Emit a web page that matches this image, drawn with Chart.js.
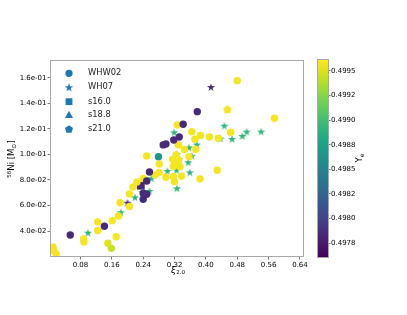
<!DOCTYPE html>
<html lang="en">
<head>
  <meta charset="UTF-8">
  <title>56Ni vs compactness</title>
  <script src="https://cdn.jsdelivr.net/npm/chart.js"></script>
  <style>
    html, body { margin: 0; padding: 0; background: #fff; }
    .wrap { position: relative; width: 407px; height: 315px; overflow: hidden; }
    #mainChart { position: absolute; left: 0; top: 0; }
    #cbar { position: absolute; left: 300px; top: 0; }
  </style>
</head>
<body>
  <div class="wrap">
    <canvas id="mainChart" width="310" height="315"></canvas>
    <canvas id="cbar" width="107" height="315"></canvas>
  </div>
  <script>
    // WHW02 models (circles)
    const whwXi = [0.010, 0.013, 0.018, 0.088, 0.089, 0.124, 0.124, 0.161, 0.150, 0.159, 0.171, 0.177, 0.181, 0.205, 0.205,
      0.214, 0.224, 0.240, 0.249, 0.270, 0.281, 0.281, 0.298, 0.317, 0.317, 0.320, 0.334, 0.338, 0.321, 0.315, 0.324, 0.330,
      0.345, 0.374, 0.357, 0.330, 0.327, 0.364, 0.386, 0.372, 0.409, 0.432, 0.463, 0.575, 0.480, 0.429, 0.385,
      0.054, 0.141, 0.249, 0.256, 0.240, 0.249, 0.240, 0.378, 0.342, 0.332, 0.318, 0.291, 0.298,
      0.279];
    const whwNi = [0.0275, 0.0243, 0.0220, 0.0337, 0.0314, 0.0471, 0.0404, 0.0481, 0.0304, 0.0264, 0.0355, 0.0518, 0.0622, 0.0592, 0.0690,
      0.0745, 0.0784, 0.0813, 0.0988, 0.0839, 0.0860, 0.0925, 0.0821, 0.0906, 0.0827, 0.0787, 0.0904, 0.0831, 0.0931, 0.0962, 0.0996, 0.0957,
      0.1039, 0.1041, 0.0983, 0.1075, 0.1231, 0.1179, 0.1149, 0.1120, 0.1137, 0.1127, 0.1174, 0.1284, 0.1579, 0.0876, 0.0809,
      0.0369, 0.0437, 0.0792, 0.0863, 0.0696, 0.0688, 0.0649, 0.1336, 0.1237, 0.1137, 0.1114, 0.1075, 0.1082,
      0.0983];
    const whwYe = [0.49958, 0.49958, 0.49958, 0.49958, 0.49958, 0.49958, 0.49958, 0.49958, 0.49952, 0.49945, 0.49958, 0.49958, 0.49958, 0.49958, 0.49958,
      0.49958, 0.49958, 0.49958, 0.49958, 0.49958, 0.49958, 0.49958, 0.49958, 0.49958, 0.49958, 0.49958, 0.49958, 0.49958, 0.49958, 0.49958, 0.49958, 0.49958,
      0.49958, 0.49958, 0.49958, 0.49958, 0.49958, 0.49958, 0.49958, 0.49958, 0.49958, 0.49958, 0.49958, 0.49958, 0.49958, 0.49958, 0.49958,
      0.49785, 0.49785, 0.49785, 0.49785, 0.49785, 0.49785, 0.49785, 0.49785, 0.49785, 0.49785, 0.49785, 0.49785, 0.49785,
      0.49865];

    // WH07 models (stars)
    const whXi = [0.099, 0.183, 0.219, 0.238, 0.256, 0.261, 0.302, 0.325, 0.326, 0.355, 0.359, 0.319, 0.326, 0.332, 0.357, 0.377,
      0.364, 0.447, 0.437, 0.467, 0.493, 0.504, 0.541, 0.200, 0.413];
    const whNi = [0.0387, 0.0547, 0.0664, 0.0704, 0.0714, 0.0813, 0.0871, 0.0878, 0.0735, 0.0939, 0.0860, 0.1174, 0.1002, 0.0963, 0.1055, 0.1078,
      0.0990, 0.1226, 0.1125, 0.1122, 0.1145, 0.1179, 0.1180, 0.0622, 0.1529];
    const whYe = [0.49891, 0.49891, 0.49891, 0.49891, 0.49891, 0.49891, 0.49891, 0.49891, 0.49891, 0.49891, 0.49891, 0.49891, 0.49891, 0.49891, 0.49891, 0.49891,
      0.49891, 0.49891, 0.49891, 0.49891, 0.49891, 0.49891, 0.49891, 0.49785, 0.49785];

    // single progenitors
    const s16Xi = [0.234], s16Ni = [0.0755], s16Ye = [0.49785];
    const s188Xi = [], s188Ni = [], s188Ye = [];
    const s21Xi = [0.455], s21Ni = [0.1355], s21Ye = [0.49958];

    const legendNames = ['WHW02', 'WH07', 's16.0', 's18.8', 's21.0'];
    const xTicks = [0.08, 0.16, 0.24, 0.32, 0.40, 0.48, 0.56, 0.64];
    const xTickLabels = ['0.08', '0.16', '0.24', '0.32', '0.40', '0.48', '0.56', '0.64'];
    const yTicks = [0.04, 0.06, 0.08, 0.10, 0.12, 0.14, 0.16];
    const yTickLabels = ['4.0e-02', '6.0e-02', '8.0e-02', '1.0e-01', '1.2e-01', '1.4e-01', '1.6e-01'];
    const cbTicks = [0.49775, 0.498, 0.49825, 0.4985, 0.49875, 0.499, 0.49925, 0.4995];
    const cbTickLabels = ['0.4978', '0.4980', '0.4982', '0.4985', '0.4988', '0.4990', '0.4992', '0.4995'];
    const yeMin = 0.49761, yeMax = 0.49961;

    // viridis colormap
    const VIRIDIS = ['#440154', '#471365', '#482475', '#463480', '#414487', '#3b528b', '#355f8d', '#2f6c8e', '#2a788e', '#25848e',
      '#21918c', '#1e9c89', '#22a884', '#2fb47c', '#44bf70', '#5ec962', '#7ad151', '#9bd93c', '#bddf26', '#dfe318', '#fde725'];
    function hexRgb(h) {
      return [parseInt(h.slice(1, 3), 16), parseInt(h.slice(3, 5), 16), parseInt(h.slice(5, 7), 16)];
    }
    function viridis(t) {
      t = Math.max(0, Math.min(1, t));
      const f = t * (VIRIDIS.length - 1);
      const i = Math.min(Math.floor(f), VIRIDIS.length - 2);
      const k = f - i;
      const a = hexRgb(VIRIDIS[i]), b = hexRgb(VIRIDIS[i + 1]);
      return 'rgb(' + a.map((v, j) => Math.round(v + (b[j] - v) * k)).join(',') + ')';
    }
    function yeColor(ye) {
      return viridis((ye - yeMin) / (yeMax - yeMin));
    }

    // custom markers (filled star, pentagon)
    const markerCache = {};
    function polyMarker(kind, color, r) {
      const key = kind + color + r;
      if (markerCache[key]) return markerCache[key];
      const c = document.createElement('canvas');
      const s = 2 * Math.ceil(r + 1);
      c.width = s; c.height = s;
      const g = c.getContext('2d');
      g.fillStyle = color;
      g.beginPath();
      const n = kind === 'star' ? 10 : 5;
      for (let i = 0; i < n; i++) {
        const rr = (kind === 'star' && i % 2 === 1) ? r * 0.382 : r;
        const a = -Math.PI / 2 + i * 2 * Math.PI / n;
        const px = s / 2 + rr * Math.cos(a), py = s / 2 + rr * Math.sin(a) + r * 0.1;
        if (i === 0) g.moveTo(px, py); else g.lineTo(px, py);
      }
      g.closePath();
      g.fill();
      markerCache[key] = c;
      return c;
    }

    function pts(xs, ys) {
      return xs.map((x, i) => ({ x: x, y: ys[i] }));
    }
    function colorFrom(arr) {
      return ctx => ctx.dataIndex === undefined ? '#1f77b4' : yeColor(arr[ctx.dataIndex]);
    }

    Chart.defaults.font.family = "'DejaVu Sans', sans-serif";
    Chart.defaults.font.size = 7;
    Chart.defaults.color = '#000';

    function drawRich(ctx, parts, x, y, rotate) {
      ctx.save();
      ctx.translate(x, y);
      if (rotate) ctx.rotate(-Math.PI / 2);
      let total = 0;
      parts.forEach(p => { ctx.font = p.font; p.w = ctx.measureText(p.t).width; total += p.w; });
      let cx = -total / 2;
      ctx.textBaseline = 'middle';
      ctx.textAlign = 'left';
      ctx.fillStyle = '#000';
      parts.forEach(p => { ctx.font = p.font; ctx.fillText(p.t, cx, p.dy || 0); cx += p.w; });
      ctx.restore();
    }

    const F = "'DejaVu Sans', sans-serif";

    const framePlugin = {
      id: 'frame',
      beforeDatasetsDraw(chart) {
        const { ctx, chartArea: a } = chart;
        ctx.save();
        ctx.strokeStyle = '#a8a8a8';
        ctx.lineWidth = 1;
        ctx.strokeRect(a.left - 0.5, a.top - 0.5, a.right - a.left + 1, a.bottom - a.top + 1);
        ctx.restore();
      },
      afterDraw(chart) {
        const ctx = chart.ctx;
        // axis titles
        drawRich(ctx, [
          { t: 'ξ', font: 'italic 9px ' + F },
          { t: '2.0', font: '5.5px ' + F, dy: 2 }
        ], 178, 271, false);
        drawRich(ctx, [
          { t: '56', font: '5.5px ' + F, dy: -2.5 },
          { t: 'Ni [M', font: '8.5px ' + F },
          { t: '⊙', font: '6px ' + F, dy: 2 },
          { t: ']', font: '8.5px ' + F }
        ], 12, 159, true);
        // legend
        const rows = [73.3, 87.3, 101.7, 115, 129];
        const blue = '#1f77b4';
        ctx.save();
        rows.forEach((ry, i) => {
          const mx = 69;
          ctx.fillStyle = blue;
          if (i === 0) {
            ctx.beginPath(); ctx.arc(mx, ry, 3.6, 0, Math.PI * 2); ctx.fill();
          } else if (i === 1) {
            const c = polyMarker('star', blue, 4.6);
            ctx.drawImage(c, mx - c.width / 2, ry - c.height / 2);
          } else if (i === 2) {
            ctx.fillRect(mx - 3.4, ry - 3.4, 6.8, 6.8);
          } else if (i === 3) {
            ctx.beginPath(); ctx.moveTo(mx, ry - 4.2); ctx.lineTo(mx + 4, ry + 3); ctx.lineTo(mx - 4, ry + 3); ctx.closePath(); ctx.fill();
          } else {
            const c = polyMarker('pent', blue, 4.2);
            ctx.drawImage(c, mx - c.width / 2, ry - c.height / 2);
          }
          ctx.fillStyle = '#222';
          ctx.font = '8.3px ' + F;
          ctx.textBaseline = 'middle';
          ctx.textAlign = 'left';
          ctx.fillText(legendNames[i], 88, ry);
        });
        ctx.restore();
      }
    };

    const mainChart = new Chart(document.getElementById('mainChart'), {
      type: 'scatter',
      data: {
        datasets: [
          {
            label: legendNames[0], data: pts(whwXi, whwNi),
            pointStyle: 'circle', pointRadius: 3.7, borderWidth: 0,
            backgroundColor: colorFrom(whwYe)
          },
          {
            label: legendNames[1], data: pts(whXi, whNi),
            pointRadius: 4.2, borderWidth: 0,
            pointStyle: ctx => ctx.dataIndex === undefined ? 'star' : polyMarker('star', yeColor(whYe[ctx.dataIndex]), 4.3)
          },
          {
            label: legendNames[2], data: pts(s16Xi, s16Ni),
            pointStyle: 'rect', pointRadius: 5.5, borderWidth: 0,
            backgroundColor: colorFrom(s16Ye)
          },
          {
            label: legendNames[3], data: pts(s188Xi, s188Ni),
            pointStyle: 'triangle', pointRadius: 5, borderWidth: 0,
            backgroundColor: colorFrom(s188Ye)
          },
          {
            label: legendNames[4], data: pts(s21Xi, s21Ni),
            pointRadius: 4.3, borderWidth: 0,
            pointStyle: ctx => ctx.dataIndex === undefined ? 'circle' : polyMarker('pent', yeColor(s21Ye[ctx.dataIndex]), 4.4)
          }
        ]
      },
      options: {
        responsive: false,
        animation: false,
        events: [],
        layout: { padding: { left: 0, right: 7, top: 61, bottom: 0 } },
        plugins: { legend: { display: false }, tooltip: { enabled: false } },
        scales: {
          x: {
            type: 'linear', min: 0.0048, max: 0.6477,
            afterFit: s => { s.height = 59; },
            afterBuildTicks: s => { s.ticks = xTicks.map(v => ({ value: v })); },
            ticks: { autoSkip: false, maxRotation: 0, padding: 1, callback: (v, i) => xTickLabels[i] },
            grid: { drawOnChartArea: false, drawTicks: true, tickLength: 3.5, tickColor: '#555', tickWidth: 0.8 },
            border: { display: false }
          },
          y: {
            type: 'linear', min: 0.0204, max: 0.1733,
            afterFit: s => { s.width = 51; },
            afterBuildTicks: s => { s.ticks = yTicks.map(v => ({ value: v })); },
            ticks: { autoSkip: false, padding: 1, callback: (v, i) => yTickLabels[i] },
            grid: { drawOnChartArea: false, drawTicks: true, tickLength: 3.5, tickColor: '#555', tickWidth: 0.8 },
            border: { display: false }
          }
        }
      },
      plugins: [framePlugin]
    });

    // colorbar
    const cbarPlugin = {
      id: 'cbarFill',
      beforeDatasetsDraw(chart) {
        const { ctx, chartArea: a } = chart;
        const grad = ctx.createLinearGradient(0, a.bottom, 0, a.top);
        VIRIDIS.forEach((c, i) => grad.addColorStop(i / (VIRIDIS.length - 1), c));
        ctx.save();
        ctx.fillStyle = grad;
        ctx.fillRect(a.left, a.top, a.right - a.left, a.bottom - a.top);
        ctx.strokeStyle = '#a8a8a8';
        ctx.lineWidth = 1;
        ctx.strokeRect(a.left - 0.5, a.top - 0.5, a.right - a.left + 1, a.bottom - a.top + 1);
        ctx.restore();
      },
      afterDraw(chart) {
        drawRich(chart.ctx, [
          { t: 'Y', font: '8.5px ' + F },
          { t: 'e', font: '6px ' + F, dy: 2 }
        ], 60, 158, true);
      }
    };

    const cbarChart = new Chart(document.getElementById('cbar'), {
      type: 'scatter',
      data: { datasets: [] },
      options: {
        responsive: false,
        animation: false,
        events: [],
        layout: { padding: { left: 18, right: 19, top: 60, bottom: 58 } },
        plugins: { legend: { display: false }, tooltip: { enabled: false } },
        scales: {
          x: { display: false, min: 0, max: 1 },
          y: {
            position: 'right', min: yeMin, max: yeMax,
            afterFit: s => { s.width = 60; },
            afterBuildTicks: s => { s.ticks = cbTicks.map(v => ({ value: v })); },
            ticks: { autoSkip: false, padding: 0.5, callback: (v, i) => cbTickLabels[i] },
            grid: { drawOnChartArea: false, drawTicks: true, tickLength: 2.5, tickColor: '#555', tickWidth: 0.8 },
            border: { display: false }
          }
        }
      },
      plugins: [cbarPlugin]
    });
  </script>
</body>
</html>
